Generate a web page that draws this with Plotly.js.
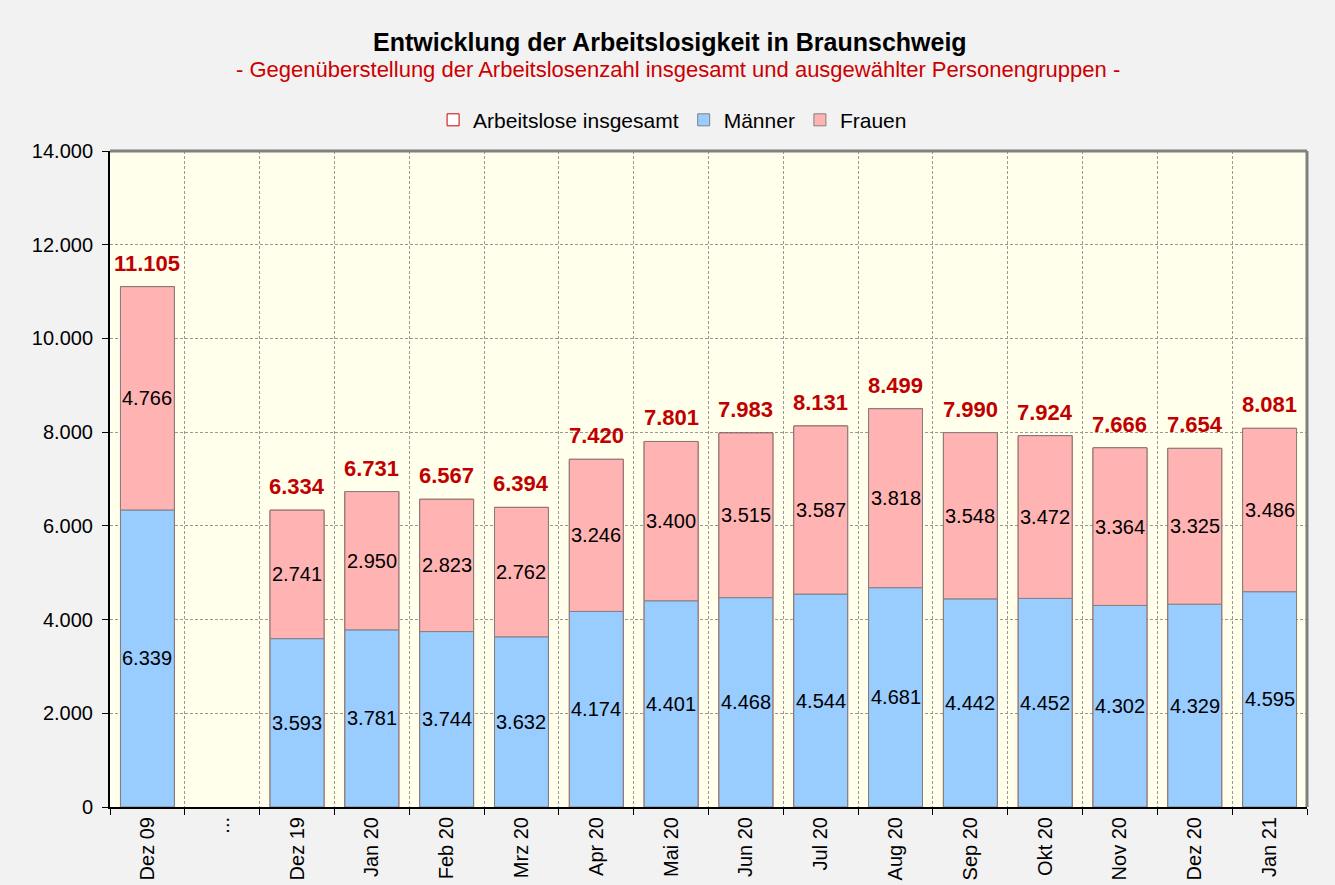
<!DOCTYPE html>
<html>
<head>
<meta charset="utf-8">
<script src="https://cdn.plot.ly/plotly-3.0.1.min.js"></script>
<style>html,body{margin:0;padding:0;background:#f2f2f2;}#chart{width:1335px;height:885px;}</style>
</head>
<body>
<div id="chart"></div>
<script>
const categories = ["Dez 09", "...", "Dez 19", "Jan 20", "Feb 20", "Mrz 20", "Apr 20", "Mai 20", "Jun 20", "Jul 20", "Aug 20", "Sep 20", "Okt 20", "Nov 20", "Dez 20", "Jan 21"];
const insgesamt = [11105, null, 6334, 6731, 6567, 6394, 7420, 7801, 7983, 8131, 8499, 7990, 7924, 7666, 7654, 8081];
const maenner = [6339, null, 3593, 3781, 3744, 3632, 4174, 4401, 4468, 4544, 4681, 4442, 4452, 4302, 4329, 4595];
const frauen = [4766, null, 2741, 2950, 2823, 2762, 3246, 3400, 3515, 3587, 3818, 3548, 3472, 3364, 3325, 3486];
const yTicks = [0, 2000, 4000, 6000, 8000, 10000, 12000, 14000];

function fmt(v) {
  if (v === null || v === undefined) return "";
  return String(v).replace(/\B(?=(\d{3})+(?!\d))/g, ".");
}
const FONT = "Arial, 'Liberation Sans', sans-serif";
const grey = "#999999";
const frauenBase = maenner.map(v => v === null ? 0 : v);

const traces = [
  {
    type: "bar", name: "Arbeitslose insgesamt", x: categories, y: insgesamt,
    marker: {color: "#ffffff", line: {color: "#cc0000", width: 1}},
    hoverinfo: "skip"
  },
  {
    type: "bar", name: "Männer", x: categories, y: maenner,
    marker: {color: "#99ccff", line: {color: "#808080", width: 1}}
  },
  {
    type: "bar", name: "Frauen", x: categories, y: frauen, base: frauenBase,
    marker: {color: "#ffb3b3", line: {color: "#808080", width: 1}}
  }
];

const annots = [];
categories.forEach((c, i) => {
  if (maenner[i] !== null) {
    annots.push({x: c, y: maenner[i] / 2, xref: "x", yref: "y", showarrow: false,
      xanchor: "center", yanchor: "middle", text: fmt(maenner[i]),
      font: {family: FONT, size: 20, color: "#000"}});
  }
  if (frauen[i] !== null) {
    annots.push({x: c, y: frauenBase[i] + frauen[i] / 2, xref: "x", yref: "y", showarrow: false,
      xanchor: "center", yanchor: "middle", text: fmt(frauen[i]),
      font: {family: FONT, size: 20, color: "#000"}});
  }
  if (insgesamt[i] !== null) {
    annots.push({x: c, y: insgesamt[i], xref: "x", yref: "y", yanchor: "bottom", xanchor: "center",
      yshift: 9, showarrow: false, text: "<b>" + fmt(insgesamt[i]) + "</b>",
      font: {family: FONT, size: 22, color: "#c00000"}});
  }
});

const layout = {
  width: 1335, height: 885,
  paper_bgcolor: "#f2f2f2", plot_bgcolor: "#ffffeb",
  margin: {l: 110, r: 28, t: 151, b: 78},
  barmode: "overlay", bargap: 0.28,
  separators: ",.",
  font: {family: FONT, size: 20, color: "#000000"},
  showlegend: true,
  legend: {orientation: "h", x: 0.470, xanchor: "center", y: 1.047, yanchor: "middle",
           font: {family: FONT, size: 21}, bgcolor: "rgba(0,0,0,0)", traceorder: "normal", itemclick: false,
           itemwidth: 30},
  xaxis: {
    type: "category", tickson: "boundaries", tickangle: -90,
    ticks: "outside", ticklen: 6, tickcolor: "#000",
    showgrid: true, gridcolor: grey, griddash: "3px,2px", gridwidth: 1,
    showline: true, linecolor: "#000", linewidth: 2,
    tickfont: {family: FONT, size: 20}, fixedrange: true
  },
  yaxis: {
    range: [0, 14000], tickvals: yTicks, ticktext: yTicks.map(v => v === 0 ? "0" : fmt(v)),
    ticks: "outside", ticklen: 6, tickcolor: "#000", ticklabelstandoff: 5,
    showgrid: true, gridcolor: grey, griddash: "3px,2px", gridwidth: 1,
    showline: true, linecolor: "#000", linewidth: 2, zeroline: false,
    tickfont: {family: FONT, size: 20}, fixedrange: true
  },
  shapes: [
    {type: "line", xref: "paper", yref: "paper", x0: 0, x1: 1, y0: 1, y1: 1, line: {color: "#808080", width: 3}},
    {type: "line", xref: "paper", yref: "paper", x0: 1, x1: 1, y0: 0, y1: 1, line: {color: "#808080", width: 3}}
  ],
  annotations: annots.concat([
    {xref: "paper", yref: "paper", x: 0.468, y: 1.166, xanchor: "center", yanchor: "middle", showarrow: false,
     text: "<b>Entwicklung der Arbeitslosigkeit in Braunschweig</b>", font: {family: FONT, size: 25, color: "#000"}},
    {xref: "paper", yref: "paper", x: 0.4745, y: 1.1235, xanchor: "center", yanchor: "middle", showarrow: false,
     text: "- Gegenüberstellung der Arbeitslosenzahl insgesamt und ausgewählter Personengruppen -", font: {family: FONT, size: 22, color: "#cc0000"}}
  ])
};

Plotly.newPlot("chart", traces, layout, {displayModeBar: false, staticPlot: true});
</script>
</body>
</html>
